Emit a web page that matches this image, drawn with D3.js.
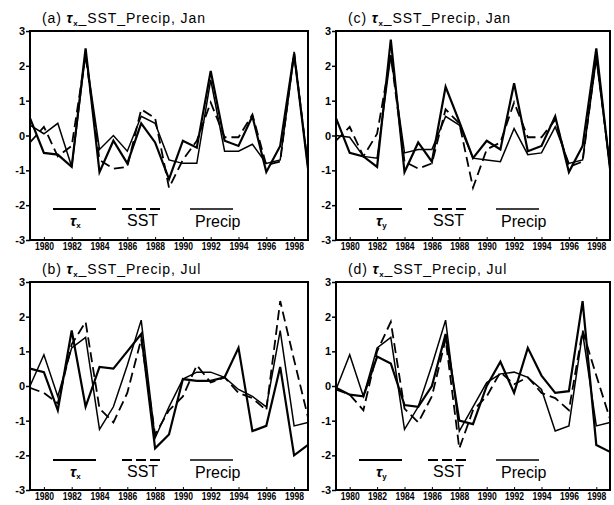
<!DOCTYPE html>
<html>
<head>
<meta charset="utf-8">
<script src="https://cdn.jsdelivr.net/npm/d3@7"></script>
<style>
body { margin:0; background:#fff; }
svg { display:block; }
text { font-family: "Liberation Sans", Arial, sans-serif; fill:#000; }
</style>
</head>
<body>
<div id="chart"></div>
<script>
// years 1979..1999
var years = d3.range(1979, 2000);
var yearLabels = [1980, 1982, 1984, 1986, 1988, 1990, 1992, 1994, 1996, 1998];
var yTicks = [3, 2, 1, 0, -1, -2, -3];
var yTickLabels = ["3", "2", "1", "0", "-1", "-2", "-3"];
var legendNames = ["SST", "Precip"];

// (a) tau_x, Jan
var aTau    = [0.5, -0.5, -0.55, -0.9, 2.5, -1.05, -0.15, -0.8, 0.35, -0.2, -1.25, -0.15, -0.35, 1.85, -0.15, -0.3, 0.55, -1.05, -0.3, 2.35, -0.95];
var aSST    = [-0.2, 0.25, -0.6, -0.3, 2.3, -0.7, -0.95, -0.9, 0.75, 0.5, -1.5, -0.7, -0.15, 0.95, -0.05, -0.05, 0.6, -0.85, -0.75, 2.4, -0.9];
var aPrecip = [0.3, 0.05, 0.35, -0.9, 2.35, -0.4, 0.0, -0.45, 0.55, 0.35, -0.7, -0.8, -0.8, 1.6, -0.45, -0.45, -0.25, -0.8, -0.7, 2.3, -0.85];

// (c) tau_y, Jan
var cTau    = [0.5, -0.5, -0.6, -0.9, 2.75, -1.05, -0.2, -0.75, 1.4, 0.4, -0.65, -0.15, -0.4, 1.5, -0.45, -0.3, 0.55, -1.05, -0.3, 2.5, -0.95];
var cSST    = [-0.15, 0.25, -0.6, 0.05, 2.3, -0.75, -0.95, -0.8, 0.75, 0.35, -1.5, -0.4, -0.2, 0.95, -0.05, -0.05, 0.45, -0.9, -0.75, 2.3, -0.9];
var cPrecip = [0.0, -0.05, -0.6, -0.65, 2.3, -0.5, -0.4, -0.4, 0.55, 0.3, -0.65, -0.7, -0.75, 0.2, -0.55, -0.5, 0.25, -0.8, -0.7, 2.2, -0.9];

// (b) tau_x, Jul
var bTau    = [0.5, 0.4, -0.7, 1.6, -0.6, 0.55, 0.5, 1.0, 1.5, -1.8, -1.4, 0.2, 0.15, 0.15, 0.25, 1.1, -1.3, -1.15, 0.55, -2.0, -1.7];
var bSST    = [-0.05, -0.2, -0.5, 1.2, 1.85, -0.65, -1.05, -0.2, 1.35, -1.4, -0.7, -0.3, 0.6, 0.1, 0.25, -0.2, -0.35, -0.7, 2.45, 0.75, -0.9];
var bPrecip = [0.0, 0.9, -0.3, 1.1, 1.4, -1.25, -0.6, 0.6, 1.9, -1.5, -0.6, 0.2, 0.4, 0.4, 0.25, -0.1, -0.3, -0.6, 1.6, -1.15, -1.05];

// (d) tau_y, Jul
var dTau    = [-0.05, -0.25, -0.3, 0.85, 0.65, -0.55, -0.6, 0.0, 1.5, -1.0, -1.1, 0.0, 0.7, -0.2, 1.1, 0.3, -0.2, -0.15, 2.45, -1.7, -1.9];
var dSST    = [-0.1, -0.25, -0.7, 1.0, 1.85, -0.65, -1.05, -0.3, 1.35, -1.8, -0.7, -0.3, 0.4, 0.05, 0.25, -0.2, -0.35, -0.7, 1.6, 0.3, -0.95];
var dPrecip = [-0.1, 0.9, -0.3, 1.1, 1.4, -1.25, -0.6, 0.6, 1.9, -1.3, -0.6, 0.1, 0.35, 0.4, 0.25, -0.1, -1.3, -1.15, 1.55, -1.15, -1.05];

var panels = [
	{id:"a", letter:"(a)", sub:"x", month:"Jan", tau:aTau, sst:aSST, precip:aPrecip, x0:30, x1:308, y0:31, y1:240},
	{id:"c", letter:"(c)", sub:"x", month:"Jan", tau:cTau, sst:cSST, precip:cPrecip, x0:336, x1:610, y0:31, y1:240, leg:"y"},
	{id:"b", letter:"(b)", sub:"x", month:"Jul", tau:bTau, sst:bSST, precip:bPrecip, x0:30, x1:308, y0:282, y1:490},
	{id:"d", letter:"(d)", sub:"x", month:"Jul", tau:dTau, sst:dSST, precip:dPrecip, x0:336, x1:610, y0:282, y1:490, leg:"y"}
];

var svg = d3.select("#chart").append("svg").attr("width", 614).attr("height", 505);

panels.forEach(function(p)
{
	var x = d3.scaleLinear().domain([1979, 1999]).range([p.x0, p.x1]);
	var y = d3.scaleLinear().domain([-3, 3]).range([p.y1, p.y0]);
	var g = svg.append("g");

	g.append("clipPath").attr("id", "clip-" + p.id).append("rect")
		.attr("x", p.x0).attr("y", p.y0).attr("width", p.x1 - p.x0).attr("height", p.y1 - p.y0);

	// title
	var t = g.append("text").attr("x", p.x0 + 12).attr("y", p.y0 - 8)
		.style("font-size", "14px").style("letter-spacing", "0.9px");
	t.append("tspan").text(p.letter + " ");
	t.append("tspan").text("τ").style("font-style", "italic").style("font-weight", "bold");
	t.append("tspan").text(p.sub).attr("dy", 3).style("font-size", "8px").style("font-weight", "bold");
	t.append("tspan").text("_SST_Precip, " + p.month).attr("dy", -3);

	// y axis
	var ya = g.append("g").attr("transform", "translate(" + p.x0 + ",0)")
		.call(d3.axisLeft(y).tickValues(yTicks).tickSize(4).tickPadding(1)
			.tickFormat(function(d, i) { return yTickLabels[i]; }));
	ya.select(".domain").remove();
	ya.selectAll("line").attr("stroke-width", 1.5);
	ya.selectAll("text").style("font-size", "11px").style("font-weight", "bold")
		.style("font-family", "'Liberation Sans', Arial, sans-serif");

	// x axis
	var xa = g.append("g").attr("transform", "translate(0," + p.y1 + ")")
		.call(d3.axisBottom(x).tickValues(yearLabels).tickSize(-3).tickPadding(2).tickFormat(d3.format("d")));
	xa.select(".domain").remove();
	xa.selectAll("text").style("font-size", "11px").style("font-weight", "bold")
		.style("font-family", "'Liberation Sans', Arial, sans-serif")
		.attr("textLength", 19).attr("lengthAdjust", "spacingAndGlyphs");

	// frame
	g.append("rect").attr("x", p.x0).attr("y", p.y0).attr("width", p.x1 - p.x0).attr("height", p.y1 - p.y0)
		.attr("fill", "none").attr("stroke", "#000").attr("stroke-width", 2);

	var line = d3.line().x(function(d, i) { return x(years[i]); }).y(function(d) { return y(d); });
	var lines = g.append("g").attr("clip-path", "url(#clip-" + p.id + ")")
		.attr("fill", "none").attr("stroke", "#000").attr("stroke-linejoin", "miter");
	lines.append("path").attr("d", line(p.precip)).attr("stroke-width", 1.5);
	lines.append("path").attr("d", line(p.sst)).attr("stroke-width", 1.8).attr("stroke-dasharray", "10,5");
	lines.append("path").attr("d", line(p.tau)).attr("stroke-width", 2.2);

	// legend
	var ly = p.y0 + 178, lt = p.y0 + 195;
	g.append("line").attr("x1", p.x0 + 23).attr("x2", p.x0 + 66).attr("y1", ly).attr("y2", ly)
		.attr("stroke", "#000").attr("stroke-width", 2.2);
	g.append("line").attr("x1", p.x0 + 92).attr("x2", p.x0 + 134).attr("y1", ly).attr("y2", ly)
		.attr("stroke", "#000").attr("stroke-width", 1.8).attr("stroke-dasharray", "10,4");
	g.append("line").attr("x1", p.x0 + 160).attr("x2", p.x0 + 203).attr("y1", ly).attr("y2", ly)
		.attr("stroke", "#000").attr("stroke-width", 1.5);
	var lg = g.append("text").attr("x", p.x0 + 40).attr("y", lt).style("font-size", "15px");
	lg.append("tspan").text("τ").style("font-style", "italic").style("font-weight", "bold");
	lg.append("tspan").text(p.leg || "x").attr("dy", 2).style("font-size", "8px").style("font-weight", "bold");
	g.append("text").attr("x", p.x0 + 97).attr("y", lt).style("font-size", "16px").text(legendNames[0]);
	g.append("text").attr("x", p.x0 + 165).attr("y", lt + 1).style("font-size", "16px").text(legendNames[1]);
});
</script>
</body>
</html>
